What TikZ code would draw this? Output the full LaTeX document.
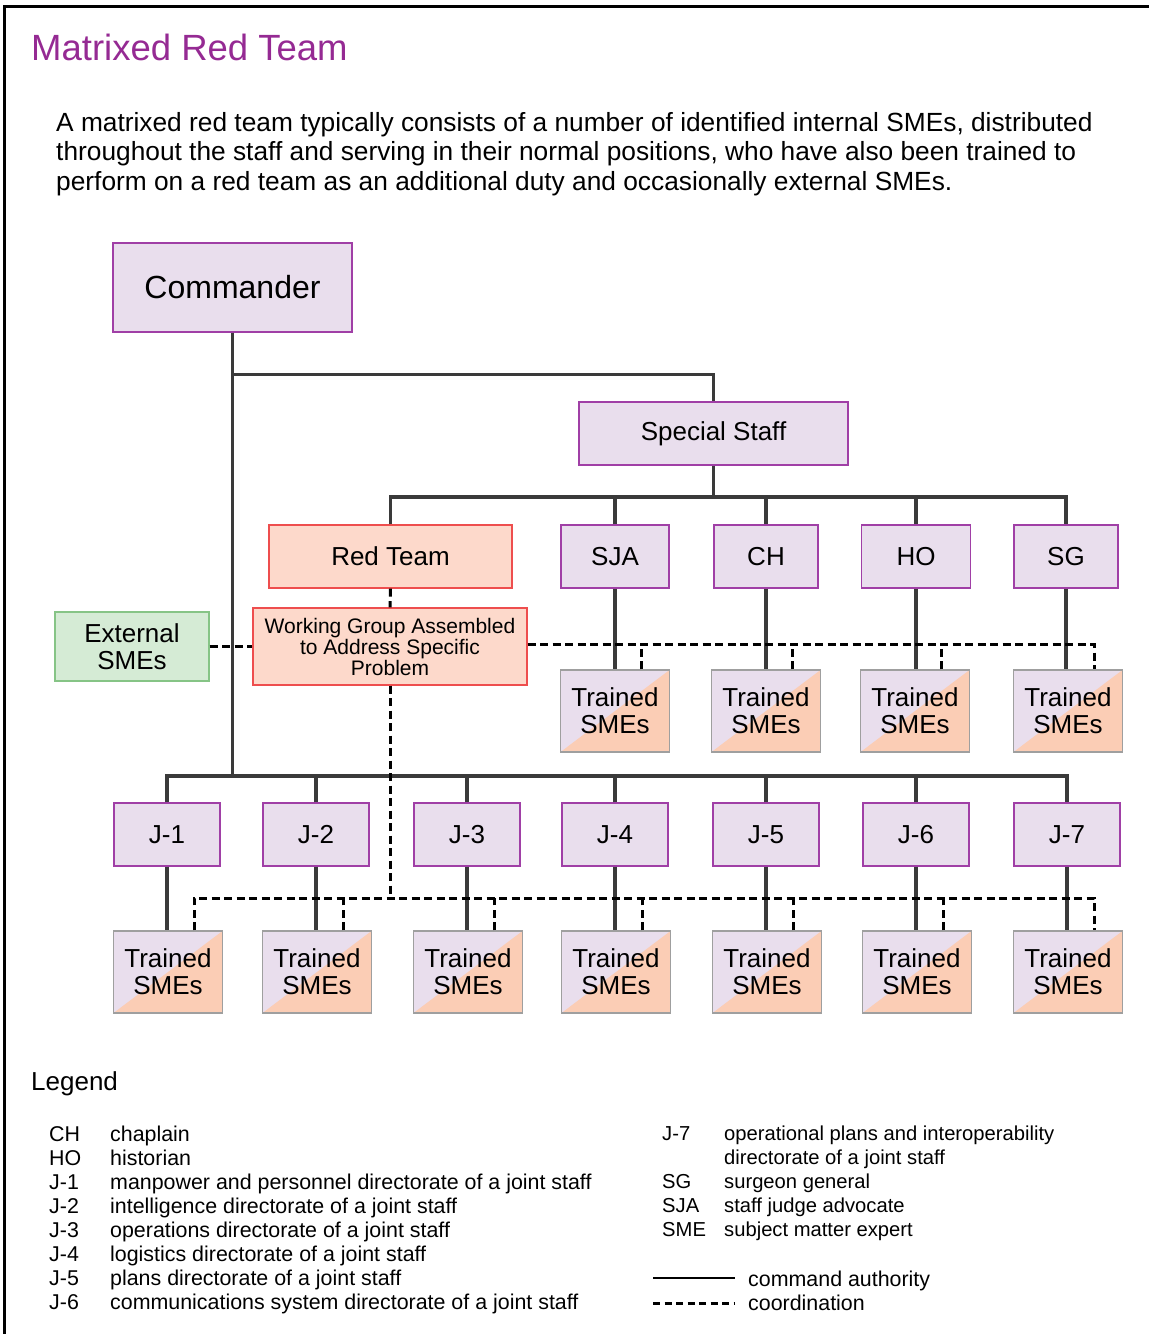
\documentclass[tikz,border=0pt]{standalone}
\usepackage{fontspec}
\setmainfont{Liberation Sans}
\usetikzlibrary{positioning}

\definecolor{boxpurple}{HTML}{E9DEED}
\definecolor{edgepurple}{HTML}{A03FA6}
\definecolor{boxsalmon}{HTML}{FDD9CB}
\definecolor{edgered}{HTML}{EE4E4E}
\definecolor{trainsalmon}{HTML}{FBCDB5}
\definecolor{boxgreen}{HTML}{D5EBD5}
\definecolor{edgegreen}{HTML}{86C486}
\definecolor{titlepurple}{HTML}{952A93}
\definecolor{linegray}{HTML}{3A3A3A}

\tikzset{
  orgbox/.style={draw=edgepurple, fill=boxpurple, line width=1.3, minimum height=63,
    inner sep=0, align=center, font=\fontsize{26}{27}\selectfont},
  redbox/.style={orgbox, draw=edgered, fill=boxsalmon},
  extbox/.style={orgbox, draw=edgegreen, fill=boxgreen},
  trained/.style={draw=gray!75, fill=boxpurple, line width=1.3, minimum width=109,
    minimum height=82, inner sep=0, align=center, font=\fontsize{26}{27}\selectfont,
    path picture={\fill[trainsalmon] (path picture bounding box.south west)
      -- (path picture bounding box.north east)
      -- (path picture bounding box.south east) -- cycle;}},
  command/.style={draw=linegray, line width=3.5},
  coord/.style={draw=black, line width=3, dash pattern=on 8 off 4.5},
  legtext/.style={anchor=base west, inner sep=0, font=\fontsize{21.4}{24}\selectfont},
  legsmall/.style={legtext, font=\fontsize{20.2}{24}\selectfont}
}

\begin{document}
\begin{tikzpicture}[x=1pt, y=-1pt]

\useasboundingbox (0,0) rectangle (1149,1334);

% Frame
\draw[line width=3] (4,1334) -- (4,6) -- (1149,6);

% Title and intro
\node[anchor=base west, inner sep=0, text=titlepurple, font=\fontsize{36.5}{40}\selectfont]
  (title) at (31,60) {Matrixed Red Team};
\node[anchor=base west, inner sep=0, align=left, font=\fontsize{26.3}{29.5}\selectfont]
  (intro) at (56,190) {A matrixed red team typically consists of a number of identified internal SMEs, distributed\\
  throughout the staff and serving in their normal positions, who have also been trained to\\
  perform on a red team as an additional duty and occasionally external SMEs.};

% Commander and special staff
\node[orgbox, minimum width=239, minimum height=89, font=\fontsize{32}{34}\selectfont]
  (cmd) at (232.5,287.5) {Commander};
\node[orgbox, minimum width=269] (ss) at (713.5,433.5) {Special Staff};

\node[redbox, minimum width=243] (rt) at (390.5,556.5) {Red Team};
\node[orgbox, minimum width=108] (sja) at (615,556.5) {SJA};
\node[orgbox, minimum width=104] (ch) at (766,556.5) {CH};
\node[orgbox, minimum width=109] (ho) at (916,556.5) {HO};
\node[orgbox, minimum width=104] (sg) at (1066,556.5) {SG};

\node[extbox, minimum width=154, minimum height=69] (ext) at (132,646.5) {External\\SMEs};
\node[redbox, minimum width=274, minimum height=77, font=\fontsize{21}{21}\selectfont]
  (wg) at (390,646.5) {Working Group Assembled\\to Address Specific\\Problem};

% Trained SMEs under special staff
\node[trained] (t1) at (615,711) {Trained\\SMEs};
\node[trained] (t2) at (766,711) {Trained\\SMEs};
\node[trained] (t3) at (915,711) {Trained\\SMEs};
\node[trained] (t4) at (1068,711) {Trained\\SMEs};

% Joint staff directorates
\foreach \n/\x in {1/167,2/316,3/467,4/615,5/766,6/916,7/1067} {
  \node[orgbox, minimum width=106] (j\n) at (\x,834.5) {J-\n};
  \node[trained] (b\n) at (\x+1,972) {Trained\\SMEs};
}

\coordinate (sbus) at (0,497);
\coordinate (jbus) at (0,776);
\coordinate (tbus) at (0,644);
\coordinate (dbus) at (0,898);

% Command authority
\draw[command] (cmd.south) -- ++(0,42) -| (ss.north);
\draw[command] (cmd.south) -- (cmd.south |- jbus);
\draw[command] (ss.south) -- (ss.south |- sbus);
\draw[command] (rt.north) |- (sg.north |- sbus) -- (sg.north);
\foreach \s in {sja,ch,ho} \draw[command] (\s.north) -- (\s.north |- sbus);
\draw[command] (sja.south) -- (t1.north -| sja.south);
\draw[command] (ch.south) -- (t2.north -| ch.south);
\draw[command] (ho.south) -- (t3.north -| ho.south);
\draw[command] (sg.south) -- (t4.north -| sg.south);
\draw[command] (j1.north) |- (j7.north |- jbus) -- (j7.north);
\foreach \n in {2,...,6} \draw[command] (j\n.north) -- (j\n.north |- jbus);
\foreach \n in {1,...,7} \draw[command] (j\n.south) -- (b\n.north -| j\n.south);

% Coordination
\draw[coord] (ext.east) -- (wg.west);
\draw[coord] (rt.south) -- (wg.north);
\draw[coord] (wg.east |- tbus) -| ([xshift=26]t4.north);
\foreach \n in {1,2,3} \draw[coord] ([xshift=26]t\n.north) -- ([xshift=26]t\n.north |- tbus);
\draw[coord] (wg.south) -- (wg.south |- dbus);
\draw[coord] ([xshift=26]b1.north) |- ([xshift=26]b7.north |- dbus) -- ([xshift=26]b7.north);
\foreach \n in {2,...,6} \draw[coord] ([xshift=26]b\n.north) -- ([xshift=26]b\n.north |- dbus);

% Legend
\node[anchor=base west, inner sep=0, font=\fontsize{26}{28}\selectfont] (leg) at (31,1090) {Legend};
\foreach [count=\i] \a/\t in {CH/chaplain, HO/historian,
    J-1/manpower and personnel directorate of a joint staff,
    J-2/intelligence directorate of a joint staff,
    J-3/operations directorate of a joint staff,
    J-4/logistics directorate of a joint staff,
    J-5/plans directorate of a joint staff,
    J-6/communications system directorate of a joint staff} {
  \node[legtext] (la\i) at (49,1117+24*\i) {\a};
  \node[legtext] (lt\i) at (110,1117+24*\i) {\t};
}
\node[legsmall] (ra1) at (662,1140) {J-7};
\node[legsmall, align=left] (rt1) at (724,1164) {operational plans and interoperability\\directorate of a joint staff};
\node[legsmall] (ra2) at (662,1188) {SG};
\node[legsmall] (rt2) at (724,1188) {surgeon general};
\node[legsmall] (ra3) at (662,1212) {SJA};
\node[legsmall] (rt3) at (724,1212) {staff judge advocate};
\node[legsmall] (ra4) at (662,1236) {SME};
\node[legsmall] (rt4) at (724,1236) {subject matter expert};

\coordinate (cmdA) at (653,1278);
\coordinate (cmdB) at (735,1278);
\coordinate (crdA) at (653,1303);
\coordinate (crdB) at (735,1303);
\draw[line width=2.4] (cmdA) -- (cmdB);
\draw[line width=3, dash pattern=on 7 off 4.5] (crdA) -- (crdB);
\node[legtext] (lca) at (748,1286) {command authority};
\node[legtext] (lcb) at (748,1310) {coordination};

\end{tikzpicture}
\end{document}
